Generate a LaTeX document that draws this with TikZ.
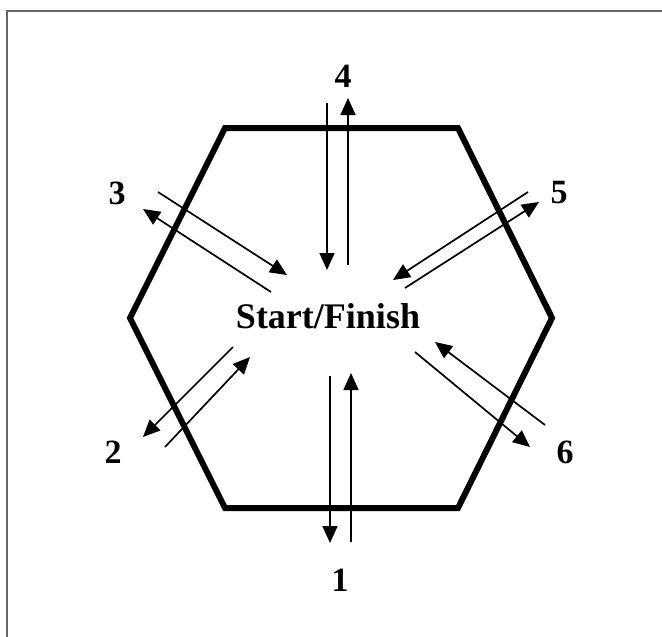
\documentclass[tikz,border=0pt]{standalone}
\usepackage{fontspec}
\setmainfont{Liberation Serif}
\usetikzlibrary{arrows.meta}

\begin{document}
\begin{tikzpicture}[x=1pt, y=-1pt, font=\bfseries,
    leg/.style={line width=1.7pt, -{Triangle[length=17pt, width=15pt]}},
    num/.style={font=\bfseries\fontsize{34}{40}\selectfont, inner sep=0pt}]

    \useasboundingbox (0,0) rectangle (662,637);
    \draw[black!60, line width=2pt] (7,637) -- (7,11) -- (662,11);

    \draw[line width=6pt, line join=miter]
        (225,128) -- (458,128) -- (552,318) -- (458,508) -- (225,508) -- (130,318) -- cycle;

    \node[inner sep=0pt] (start) at (328,316) {\fontsize{36}{42}\selectfont Start/Finish};

    \node[num] (n1) at (340,580) {1};
    \node[num] (n2) at (113,452) {2};
    \node[num] (n3) at (117,193) {3};
    \node[num] (n4) at (343,76) {4};
    \node[num] (n5) at (559,193) {5};
    \node[num] (n6) at (565,452) {6};

    \draw[leg] (330,376) -- (330,543);
    \draw[leg] (351,542) -- (351,373);

    \draw[leg] (233,347) -- (143,437);
    \draw[leg] (165,447) -- (250,357);

    \draw[leg] (158,192) -- (287,275);
    \draw[leg] (271,292) -- (143,209);

    \draw[leg] (327,103) -- (327,270);
    \draw[leg] (348,265) -- (348,98);

    \draw[leg] (528,192) -- (393,280);
    \draw[leg] (405,288) -- (539,202);

    \draw[leg] (545,425) -- (435,342);
    \draw[leg] (415,352) -- (530,447);

\end{tikzpicture}
\end{document}
